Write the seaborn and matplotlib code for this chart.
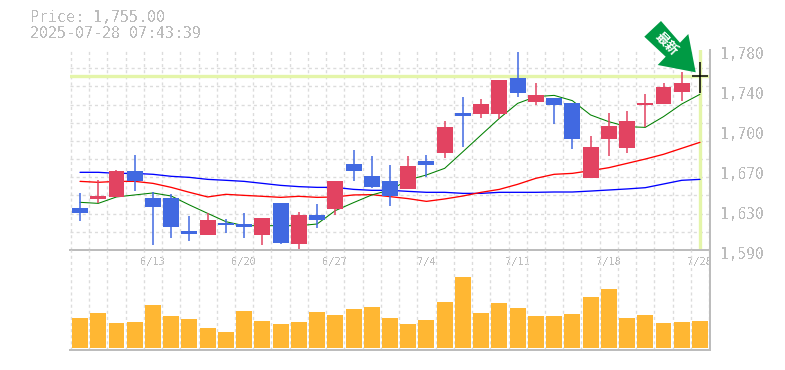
"""Candlestick chart with three moving averages and a volume panel."""
import matplotlib
matplotlib.use("Agg")
import matplotlib.pyplot as plt
import numpy as np
import pandas as pd
import seaborn as sns
from matplotlib.patches import Polygon
from matplotlib.transforms import ScaledTranslation

opens = [1630, 1638.5, 1640.5, 1665, 1639.5, 1639.5, 1608, 1604, 1615.5, 1614.5, 1604, 1634.5,
         1595.5, 1623, 1629, 1671.5, 1660.5, 1655.5, 1648, 1674.5, 1682, 1720, 1719, 1719, 1753.5,
         1730.5, 1734.5, 1729.5, 1658.5, 1695.5, 1687, 1728, 1728.5, 1740, 1755]
highs = [1644, 1656.5, 1666, 1680, 1645, 1643, 1622.5, 1625, 1619.5, 1625, 1620.5, 1634.5,
         1626, 1633.5, 1655.5, 1685, 1679.5, 1670.5, 1679.5, 1680, 1712.5, 1735.5, 1733.5, 1751.5, 1778,
         1748.5, 1734.5, 1729.5, 1698.5, 1720, 1722, 1738, 1748.5, 1759, 1768.5]
lows = [1618, 1634.5, 1640.5, 1646, 1595, 1601.5, 1598.5, 1604, 1606, 1601.5, 1595, 1595.5,
        1591, 1611, 1623, 1655.5, 1649, 1632, 1648, 1659.5, 1677.5, 1688, 1715.5, 1714.5, 1735.5,
        1728, 1709.5, 1686, 1658.5, 1679.5, 1682, 1706.5, 1728.5, 1731.5, 1739]
closes = [1625, 1641.5, 1665, 1655.5, 1631, 1612, 1605, 1618.5, 1614, 1612, 1620.5, 1596.5,
          1623, 1618.5, 1655.5, 1665, 1650, 1641.5, 1670, 1671, 1707, 1717.5, 1728.5, 1751.5, 1739,
          1737, 1728, 1695.5, 1688, 1708, 1712.5, 1729.5, 1745, 1748.5, 1755]
ma_short = [1635.3, 1634.3, 1640.4, 1642.3, 1644.2, 1641.3, 1632.8, 1624.8, 1616.9, 1613.1, 1613.1, 1613.1,
            1613.1, 1614.7, 1627.4, 1635, 1642.3, 1647, 1656.5, 1661.3, 1667.6, 1683.4, 1699.3, 1715.1, 1729.3,
            1735.7, 1736.9, 1731.9, 1718.3, 1711.9, 1707.2, 1706.5, 1716.7, 1728.7, 1737.9]
ma_mid = [1655.2, 1654.3, 1655.2, 1655.2, 1653.3, 1649.5, 1644.8, 1640.4, 1642.9, 1641.9, 1641, 1640,
          1641, 1640, 1640.4, 1642.3, 1642.6, 1640.7, 1638.8, 1636.2, 1638.5, 1641.3, 1644.8, 1647.6, 1652.4,
          1658.1, 1661.9, 1662.8, 1665.4, 1668.2, 1672.3, 1676.4, 1680.9, 1686.6, 1692.3]
ma_long = [1663.8, 1663.8, 1662.8, 1662.8, 1661.9, 1660, 1659, 1657.1, 1656.2, 1655.2, 1653.3, 1651.4,
           1650.2, 1649.5, 1649.5, 1647.6, 1646.7, 1646.7, 1645.7, 1644.8, 1644.8, 1643.8, 1643.8, 1644.8, 1644.8,
           1644.8, 1645.1, 1645.1, 1646, 1647, 1648, 1649.2, 1652.7, 1656.2, 1657.1]
volumes = [29.7, 34.7, 24.7, 25.7, 42.7, 31.7, 28.7, 19.7, 15.7, 36.7, 26.7, 23.7,
           25.7, 35.7, 32.7, 38.7, 40.7, 29.7, 23.7, 27.7, 45.7, 70.7, 34.7, 44.7, 39.7,
           31.7, 31.7, 33.7, 50.7, 58.7, 29.7, 32.7, 24.7, 25.7, 26.7]
date_idx = [4, 9, 14, 19, 24, 29, 34]
date_labels = ["6/13", "6/20", "6/27", "7/4", "7/11", "7/18", "7/28"]
price_ticks = [1780, 1742, 1704, 1666, 1628, 1590]
price_labels = ["1,780", "1,740", "1,700", "1,670", "1,630", "1,590"]
last_price = 1755

W, H = 785, 370
GREY = "#bcbcbc"
GRID = "#dcdcdc"
UP = "#e24361"
DOWN = "#4169e1"
HILITE = "#e4f5a9"
BODY_W = 0.877
MONO = "DejaVu Sans Mono"


def px_rect(x0, y0, x1, y1):
    # reference pixels (y down) to figure fractions
    return [x0 / W, (H - y1) / H, (x1 - x0) / W, (y1 - y0) / H]


def style_panel(ax):
    ax.set_xlim(-0.55, 34.55)
    ax.set_xticks(np.arange(-0.5, 34.6), minor=True)
    ax.tick_params(which="both", length=0)
    ax.grid(True, which="minor", color=GRID, lw=1.0, ls=(0, (2.2, 2.2)))
    ax.grid(False, which="major")
    ax.set_axisbelow(True)
    ax.patch.set_alpha(0)
    ax.set_xlabel("")
    ax.set_ylabel("")
    for side in ["top", "left"]:
        ax.spines[side].set_visible(False)
    for side in ["right", "bottom"]:
        ax.spines[side].set_visible(True)
        ax.spines[side].set_color(GREY)
        ax.spines[side].set_linewidth(1.44)


sns.set_theme(style="white")
plt.rcParams["font.family"] = [MONO, "Noto Sans CJK JP"]
plt.rcParams["text.antialiased"] = False

x = np.arange(len(closes))
fig = plt.figure(figsize=(W / 100, H / 100), dpi=100)
ax = fig.add_axes(px_rect(70, 50, 710, 250))
ax_vol = fig.add_axes(px_rect(70, 250, 710, 350))

# moving averages sit under the candles
ma_df = pd.DataFrame({"x": x, "short": ma_short, "mid": ma_mid, "long": ma_long})
sns.lineplot(data=ma_df, x="x", y="long", color="blue", lw=0.95, ax=ax, zorder=2)
sns.lineplot(data=ma_df, x="x", y="mid", color="red", lw=0.95, ax=ax, zorder=2)
sns.lineplot(data=ma_df, x="x", y="short", color="green", lw=0.75, ax=ax, zorder=2)

ax.axhline(last_price, color=HILITE, lw=2.4, zorder=1.5)
ax.axvline(x[-1], color=HILITE, lw=2.4, zorder=1.5)

o, h, l, c = map(np.array, (opens, highs, lows, closes))
colors = [UP if ci > oi else DOWN for oi, ci in zip(o[:-1], c[:-1])]
ax.vlines(x[:-1], l[:-1], h[:-1], colors=colors, lw=1.1, zorder=3)
ax.bar(x[:-1], np.abs(c[:-1] - o[:-1]), bottom=np.minimum(o[:-1], c[:-1]),
       width=BODY_W, color=colors, lw=0, zorder=4)

# current session is still open, so just a cross
ax.vlines(x[-1], l[-1], h[-1], colors="black", lw=1.1, zorder=5)
ax.hlines(c[-1], x[-1] - BODY_W / 2, x[-1] + BODY_W / 2, colors="black", lw=1.1, zorder=5)

ax.set_ylim(1590, 1780)
ax.set_yticks(np.linspace(1590, 1780, 12), minor=True)
style_panel(ax)
ax.set_xticks(date_idx, date_labels)
ax.yaxis.tick_right()
ax.set_yticks(price_ticks, price_labels)
ax.tick_params(axis="y", which="major", pad=7, labelsize=10.5, labelcolor=GREY)
ax.tick_params(axis="x", which="major", pad=5, labelsize=7.5, labelcolor=GREY)
shift = ScaledTranslation(0, -3 / 100, fig.dpi_scale_trans)
for lab in ax.get_yticklabels():
    lab.set_transform(lab.get_transform() + shift)

sns.barplot(x=x, y=volumes, native_scale=True, width=BODY_W, color="#ffb733", saturation=1,
            lw=0, ax=ax_vol, zorder=3)
ax_vol.set_ylim(-2, 98)
style_panel(ax_vol)
ax_vol.set_xticks([])
ax_vol.set_yticks([])

fig.text(30 / W, 1 - 18 / H, "Price: 1,755.00", color=GREY, fontsize=10.8, va="center")
fig.text(30 / W, 1 - 33 / H, "2025-07-28 07:43:39", color=GREY, fontsize=10.8, va="center")

# green marker arrow pointing at the last price
arrow = [(661, 21), (644.3, 36.7), (665.7, 56.7), (657.7, 65), (695.7, 72.3), (688.3, 34), (680, 42.7)]
fig.add_artist(Polygon([(px / W, 1 - py / H) for px, py in arrow], closed=True,
                       transform=fig.transFigure, fc="#009a44", ec="none", zorder=10))
fig.text(666.5 / W, 1 - 44 / H, "最新", color="white", fontsize=9.5, fontweight="bold",
         family=["Noto Sans CJK JP"], rotation=-45, ha="center", va="center",
         rotation_mode="anchor", zorder=11, antialiased=True)

fig.savefig("out.png", dpi=100)
